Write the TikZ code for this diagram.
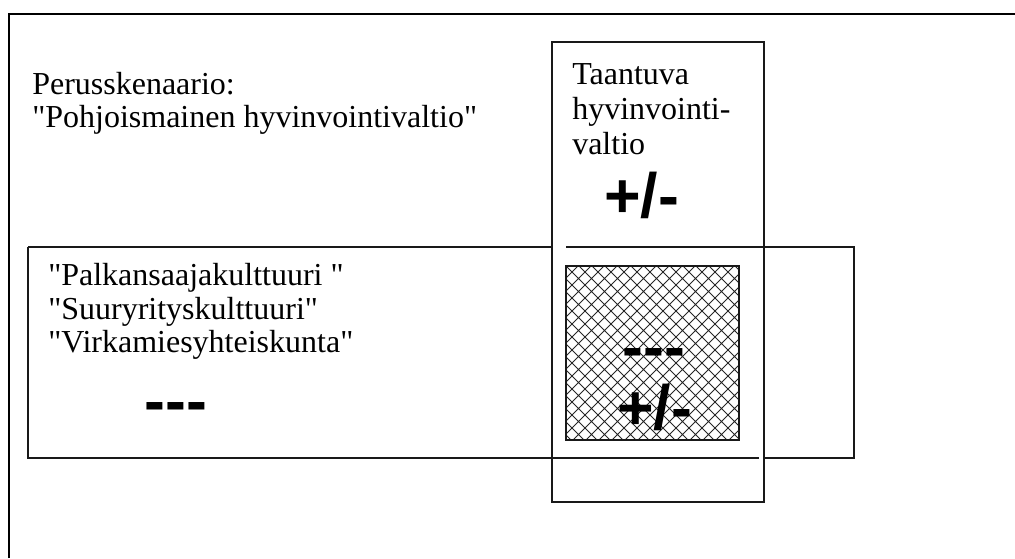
\documentclass[tikz,border=0pt]{standalone}
\usepackage{fontspec}
\setmainfont{Liberation Serif}[Ligatures=TeXOff]
\newfontfamily\arialfont{Liberation Sans}[Ligatures=TeXOff]
\usetikzlibrary{patterns}
\pgfdeclarepatternformonly{xhatch}{\pgfqpoint{-1pt}{-1pt}}{\pgfqpoint{10.75pt}{10.75pt}}{\pgfqpoint{9.75pt}{9.75pt}}{%
  \pgfsetlinewidth{0.6pt}%
  \pgfpathmoveto{\pgfqpoint{0pt}{0pt}}\pgfpathlineto{\pgfqpoint{9.75pt}{9.75pt}}%
  \pgfpathmoveto{\pgfqpoint{0pt}{9.75pt}}\pgfpathlineto{\pgfqpoint{9.75pt}{0pt}}%
  \pgfusepath{stroke}}
\tikzset{
  txt/.style={anchor=base west, inner sep=0pt, font=\fontsize{24pt}{27pt}\selectfont},
  sign/.style={anchor=base west, inner sep=0pt, font=\arialfont\bfseries\fontsize{47pt}{50pt}\selectfont},
  frame/.style={line width=0.9pt, draw=black!90}
}
\begin{document}
\begin{tikzpicture}[x=0.75pt, y=-0.75pt]
\useasboundingbox (0,0) rectangle (1015,558);
% outer frame (partially visible)
\draw[line width=1.3pt] (9,558) -- (9,14) -- (1015,14);
% vertical box
\draw[frame] (552,42) rectangle (764,502);
% horizontal box
\draw[frame] (28,247) -- (552,247);
\draw[frame] (566,247) -- (854,247) -- (854,458) -- (764,458);
\draw[frame] (759,458) -- (28,458) -- (28,247);
% hatched square
\fill[pattern=xhatch, pattern color=black!85] (566,266) rectangle (739,440);
\draw[frame] (566,266) rectangle (739,440);
% texts
\node[txt] (p1) at (32,94) {Perusskenaario:};
\node[txt] (p2) at (32,127) {"Pohjoismainen hyvinvointivaltio"};
\node[txt] (t1) at (572,84) {Taantuva};
\node[txt] (t2) at (572,119) {hyvinvointi-};
\node[txt] (t3) at (572,154) {valtio};
\node[sign] (s1) at (604,217) {+/-};
\node[txt] (h1) at (48,285) {"Palkansaajakulttuuri "};
\node[txt] (h2) at (48,319) {"Suuryrityskulttuuri"};
\node[txt] (h3) at (48,352) {"Virkamiesyhteiskunta"};
\node[sign] (d1) at (144,422) {---};
\node[sign] (d2) at (622,368) {---};
\node[sign] (s2) at (617,429) {+/-};
\end{tikzpicture}
\end{document}
